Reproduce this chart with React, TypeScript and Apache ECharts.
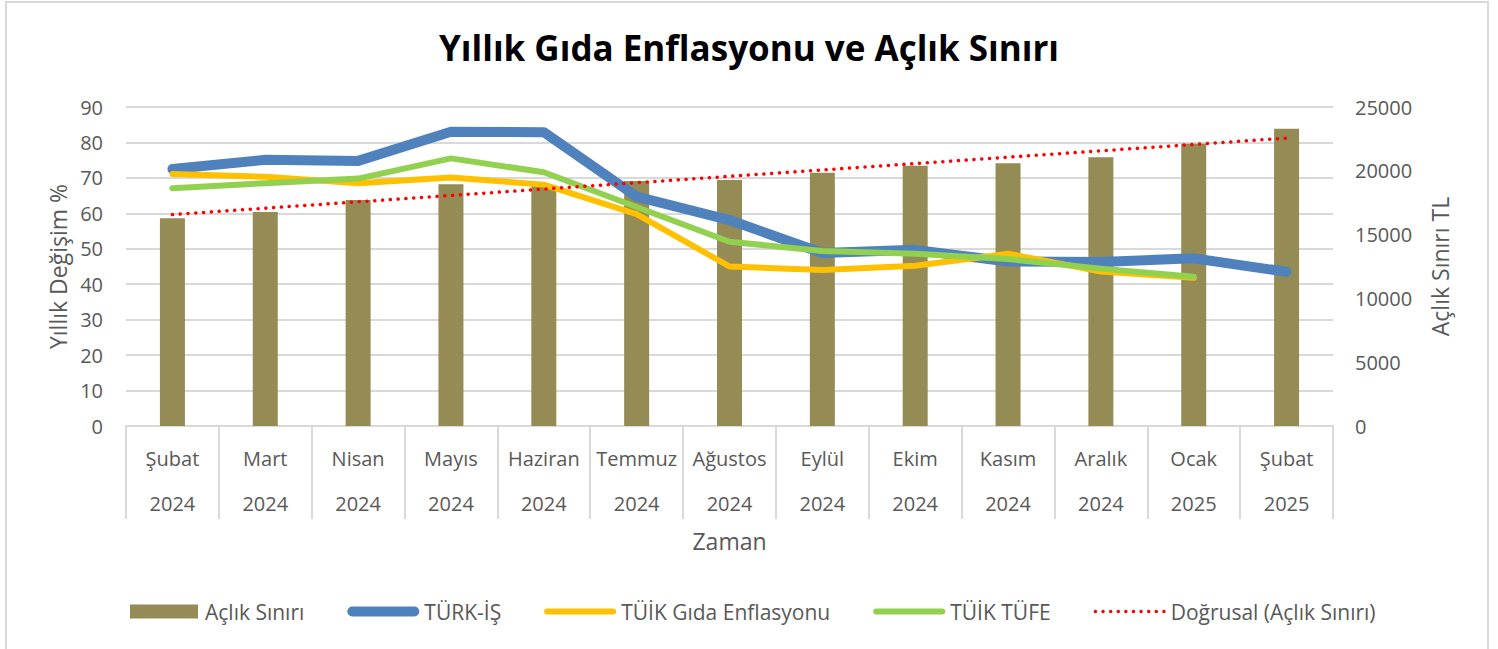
import React, { useEffect, useRef } from "react";
import * as echarts from "echarts";

const months = ["Şubat", "Mart", "Nisan", "Mayıs", "Haziran", "Temmuz", "Ağustos", "Eylül", "Ekim", "Kasım", "Aralık", "Ocak", "Şubat"];
const years = ["2024", "2024", "2024", "2024", "2024", "2024", "2024", "2024", "2024", "2024", "2024", "2025", "2025"];
const aclikSiniri = [16280, 16770, 17710, 18940, 18890, 19200, 19280, 19850, 20400, 20590, 21060, 22125, 23300];
const turkIs = [72.5, 75.1, 74.8, 83.0, 82.9, 64.7, 58.1, 48.8, 49.7, 46.4, 46.3, 47.3, 43.5];
const tuikGida = [71.1, 70.3, 68.5, 70.1, 68.1, 59.8, 45.0, 44.0, 45.2, 48.6, 43.6, 41.8, null];
const tuikTufe = [67.1, 68.5, 69.8, 75.5, 71.6, 61.8, 52.0, 49.4, 48.6, 47.1, 44.4, 42.1, null];
const leftTicks = { min: 0, max: 90, interval: 10 };
const rightTicks = { min: 0, max: 25000, interval: 5000 };

// Linear trend (least squares) of the Açlık Sınırı series, as Excel's "Doğrusal" trendline
function linearTrend(vals: number[]): number[] {
  const n = vals.length;
  const mx = (n - 1) / 2;
  const my = vals.reduce((a, b) => a + b, 0) / n;
  let num = 0, den = 0;
  vals.forEach((v, i) => { num += (i - mx) * (v - my); den += (i - mx) * (i - mx); });
  const slope = num / den;
  return vals.map((_, i) => my + slope * (i - mx));
}

// legend icon shapes
function roundLine(w: number, h: number): string {
  const r = h / 2;
  return `path://M${r},0 H${w - r} A${r},${r} 0 1 1 ${w - r},${h} H${r} A${r},${r} 0 1 1 ${r},0 Z`;
}
function dots(w: number, r: number, n: number): string {
  const step = (w - 2 * r) / (n - 1);
  let d = "path://";
  for (let i = 0; i < n; i++) {
    const cx = r + i * step;
    d += `M${cx - r},${r} A${r},${r} 0 1 1 ${cx + r},${r} A${r},${r} 0 1 1 ${cx - r},${r} Z `;
  }
  return d;
}

const FONT = "'Open Sans', sans-serif";
const GREY = "#595959";

export default function App() {
  const ref = useRef<HTMLDivElement>(null);
  useEffect(() => {
    if (!ref.current) return;
    const chart = echarts.init(ref.current, null, { renderer: "svg" });
    const cats = months.map((m, i) => m + "\n" + years[i]);
    chart.setOption({
      animation: false,
      backgroundColor: "#ffffff",
      textStyle: { fontFamily: FONT },
      title: {
        text: "Yıllık Gıda Enflasyonu ve Açlık Sınırı",
        left: "center",
        top: 25,
        textStyle: { fontFamily: FONT, fontWeight: "bold", fontSize: 35, color: "#000000" },
      },
      graphic: [
        {
          type: "rect",
          shape: { x: 6, y: 2, width: 1482, height: 680 },
          style: { fill: "none", stroke: "#d9d9d9", lineWidth: 2 },
          silent: true,
        },
      ],
      legend: {
        left: 125,
        top: 596,
        itemWidth: 72,
        itemHeight: 14,
        itemGap: 43,
        textStyle: { fontFamily: FONT, fontSize: 21, color: GREY },
        data: [
          { name: "Açlık Sınırı", icon: "path://M0,0 H68 V14 H0 Z" },
          { name: "TÜRK-İŞ", icon: roundLine(72, 10) },
          { name: "TÜİK Gıda Enflasyonu", icon: roundLine(72, 6) },
          { name: "TÜİK TÜFE", icon: roundLine(72, 6) },
          { name: "Doğrusal (Açlık Sınırı)", icon: dots(72, 1.75, 10) },
        ],
      },
      grid: { left: 126, right: 165, top: 107, bottom: 223, containLabel: false },
      xAxis: {
        type: "category",
        data: cats,
        boundaryGap: true,
        axisLine: { lineStyle: { color: "#d9d9d9", width: 2 } },
        axisTick: { show: true, interval: 0, length: 93, lineStyle: { color: "#d9d9d9", width: 2 } },
        axisLabel: { interval: 0, margin: 10, lineHeight: 45, fontSize: 20, color: GREY, fontFamily: FONT },
        name: "Zaman",
        nameLocation: "middle",
        nameGap: 103,
        nameTextStyle: { fontSize: 23, color: GREY, fontFamily: FONT },
      },
      yAxis: [
        {
          type: "value",
          ...leftTicks,
          name: "Yıllık Değişim %",
          nameLocation: "middle",
          nameGap: 55,
          nameTextStyle: { fontSize: 23, color: GREY, fontFamily: FONT },
          axisLine: { show: false },
          axisTick: { show: false },
          axisLabel: { margin: 23, fontSize: 20, color: GREY, fontFamily: FONT },
          splitLine: { lineStyle: { color: "#d9d9d9", width: 2 } },
        },
        {
          type: "value",
          ...rightTicks,
          name: "Açlık Sınırı TL",
          nameLocation: "middle",
          nameGap: 95,
          nameRotate: 90,
          nameTextStyle: { fontSize: 23, color: GREY, fontFamily: FONT },
          axisLine: { show: false },
          axisTick: { show: false },
          axisLabel: { margin: 22, fontSize: 20, color: GREY, fontFamily: FONT, formatter: (v: number) => String(v) },
          splitLine: { show: false },
        },
      ],
      series: [
        {
          name: "Açlık Sınırı",
          type: "bar",
          yAxisIndex: 1,
          barWidth: 25,
          data: aclikSiniri,
          itemStyle: { color: "#958b54" },
        },
        {
          name: "TÜRK-İŞ",
          type: "line",
          yAxisIndex: 0,
          data: turkIs,
          symbol: "none",
          lineStyle: { color: "#4f81bd", width: 10, cap: "round", join: "round" },
          itemStyle: { color: "#4f81bd" },
        },
        {
          name: "TÜİK Gıda Enflasyonu",
          type: "line",
          yAxisIndex: 0,
          data: tuikGida,
          symbol: "none",
          lineStyle: { color: "#ffc000", width: 6, cap: "round", join: "round" },
          itemStyle: { color: "#ffc000" },
        },
        {
          name: "TÜİK TÜFE",
          type: "line",
          yAxisIndex: 0,
          data: tuikTufe,
          symbol: "none",
          lineStyle: { color: "#92d050", width: 6, cap: "round", join: "round" },
          itemStyle: { color: "#92d050" },
        },
        {
          name: "Doğrusal (Açlık Sınırı)",
          type: "line",
          yAxisIndex: 1,
          data: linearTrend(aclikSiniri),
          symbol: "none",
          lineStyle: { color: "#ff0000", width: 3.5, type: [0.1, 7.7], cap: "round" },
          itemStyle: { color: "#ff0000" },
        },
      ],
    });
    return () => chart.dispose();
  }, []);
  return <div ref={ref} style={{ position: "fixed", left: 0, top: 0, width: 1498, height: 649 }} />;
}
